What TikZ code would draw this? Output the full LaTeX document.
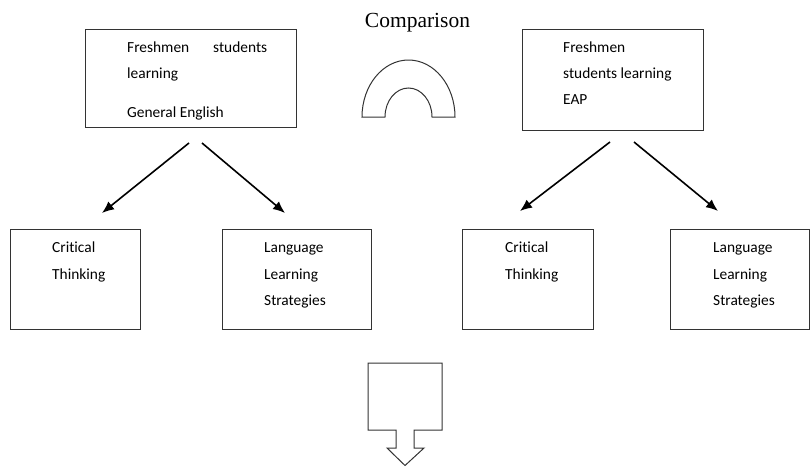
\documentclass[tikz,border=0pt]{standalone}
\usepackage{fontspec}
\setmainfont{Carlito}[Ligatures=NoCommon]
\newfontfamily\timesfont{Liberation Serif}
\usetikzlibrary{arrows.meta}
\begin{document}
\begin{tikzpicture}[x=1pt,y=-1pt,
  box/.style={draw=black!80,line width=1pt,inner sep=0pt,anchor=north west},
  txt/.style={anchor=base west,inner sep=0pt,font=\fontsize{15.4}{18}\selectfont},
  conn/.style={draw=black,line width=1.6pt,-{Latex[length=12pt,width=10pt]}},
  outline/.style={draw=black!80,line width=1pt,fill=white}]
\useasboundingbox (0,0) rectangle (810,466);
% title
\node[anchor=base,inner sep=0pt,font=\timesfont\fontsize{21.5}{24}\selectfont] (title) at (417.5,27) {Comparison};
% top boxes
\node[box,minimum width=211pt,minimum height=98pt] (b1) at (85,29) {};
\node[txt] (b1t1) at (127,52) {Freshmen};
\node[txt] (b1t2) at (213,52) {students};
\node[txt] (b1t3) at (127,78) {learning};
\node[txt] (b1t4) at (127,117) {General English};
\node[box,minimum width=181pt,minimum height=101pt] (b2) at (522,29) {};
\node[txt] (b2t1) at (563,52) {Freshmen};
\node[txt] (b2t2) at (563,78) {students learning};
\node[txt] (b2t3) at (563,104) {EAP};
% arch
\draw[outline] (362,117) arc[start angle=180,end angle=360,x radius=46.5,y radius=57] -- (432,117)
  arc[start angle=360,end angle=180,x radius=23.5,y radius=29] -- cycle;
% bottom boxes
\node[box,minimum width=130pt,minimum height=100pt] (c1) at (10,229) {};
\node[txt] (c1t1) at (52,252) {Critical};
\node[txt] (c1t2) at (52,279) {Thinking};
\node[box,minimum width=149pt,minimum height=100pt] (c2) at (222,229) {};
\node[txt] (c2t1) at (264,252) {Language};
\node[txt] (c2t2) at (264,279) {Learning};
\node[txt] (c2t3) at (264,305) {Strategies};
\node[box,minimum width=131pt,minimum height=100pt] (c3) at (462,229) {};
\node[txt] (c3t1) at (505,252) {Critical};
\node[txt] (c3t2) at (505,279) {Thinking};
\node[box,minimum width=139pt,minimum height=100pt] (c4) at (670,229) {};
\node[txt] (c4t1) at (713,252) {Language};
\node[txt] (c4t2) at (713,279) {Learning};
\node[txt] (c4t3) at (713,305) {Strategies};
% arrows
\coordinate (a1s) at (189,143); \coordinate (a1e) at (102,213);
\coordinate (a2s) at (202,143); \coordinate (a2e) at (285,213);
\coordinate (a3s) at (610,142); \coordinate (a3e) at (520,211);
\coordinate (a4s) at (634,142); \coordinate (a4e) at (718,211);
\draw[conn] (a1s) -- (a1e);
\draw[conn] (a2s) -- (a2e);
\draw[conn] (a3s) -- (a3e);
\draw[conn] (a4s) -- (a4e);
% block arrow
\draw[outline] (368,363) -- (442,363) -- (442,430) -- (414,430) -- (414,448) -- (424,448)
  -- (405,465.5) -- (387,448) -- (396,448) -- (396,430) -- (368,430) -- cycle;
\end{tikzpicture}
\end{document}
